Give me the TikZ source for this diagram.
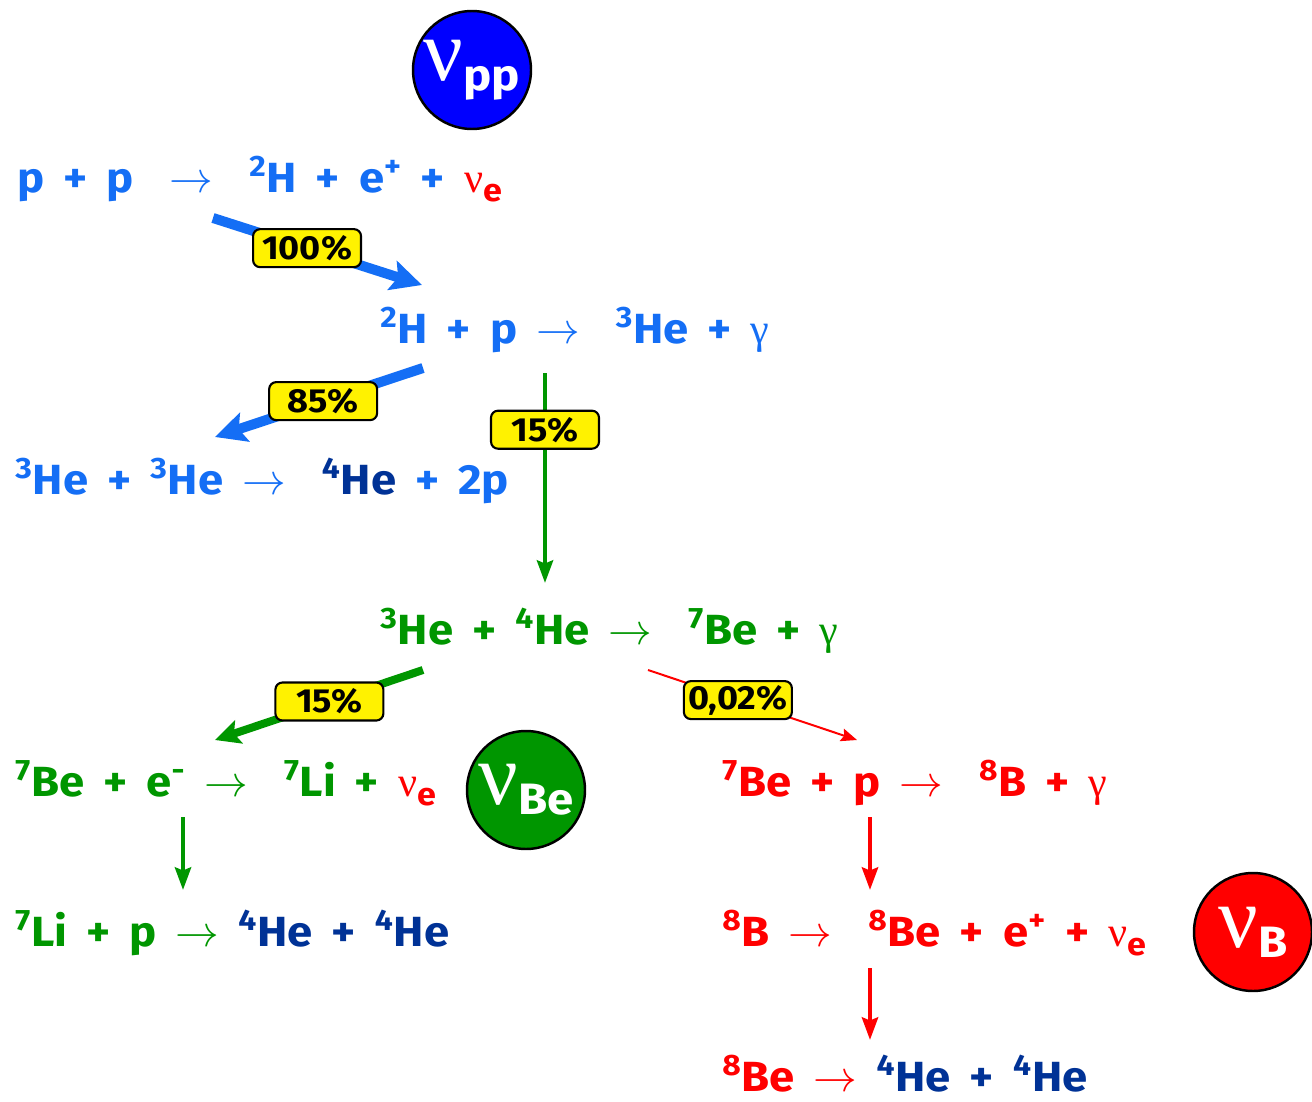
\documentclass[tikz,border=0pt]{standalone}
\usepackage{fontspec}
\setmainfont{Fira Sans}[FakeStretch=1.08]
\newfontfamily\greekfont{Liberation Serif}
\usepackage{tikz}
\usetikzlibrary{positioning,arrows.meta}
\definecolor{ppblue}{RGB}{20,110,245}
\definecolor{hedark}{RGB}{0,50,150}
\definecolor{begreen}{RGB}{0,150,0}
\definecolor{bred}{RGB}{255,0,0}
\definecolor{nublue}{RGB}{0,0,255}
\newcommand{\nue}{{\greekfont\mdseries ν}\raisebox{-0.22em}{\fontsize{18}{18}\selectfont e}}
\newcommand{\gam}{{\greekfont\mdseries γ}}
\newcommand{\ra}[1][0.4em]{$\rightarrow$\hspace{#1}}
\newcommand{\rxnfont}{\fontsize{24}{28}\selectfont\bfseries\spaceskip 0.45em\relax}
\newcommand{\nulabel}[1]{{\greekfont\fontsize{50}{50}\selectfont ν}\raisebox{-0.55em}{\fontsize{25}{28}\selectfont\bfseries #1}}

\begin{document}
\begin{tikzpicture}[x=0.02cm, y=-0.02cm,
            reaction/.style={anchor=base west, inner sep=0pt, font=\rxnfont},
            ratio/.style={draw=black, line width=1.2pt, fill=yellow, rounded corners=4pt,
                minimum width=2.16cm, minimum height=0.76cm, inner sep=1pt,
                font=\fontsize{19}{21}\selectfont\bfseries, text=black},
            nucircle/.style={circle, draw=black, line width=1.4pt, minimum size=2.36cm,
                inner sep=0pt, text=white},
            bigflow/.style={-{Stealth[length=0.62cm, width=0.6cm, inset=0.12cm]}, line width=0.2cm},
            midflow/.style={-{Stealth[length=0.5cm, width=0.48cm, inset=0.1cm]}, line width=0.16cm},
            thinflow/.style={-{Stealth[length=0.45cm, width=0.32cm, inset=0.06cm]}, line width=0.09cm},
            rareflow/.style={-{Stealth[length=0.32cm, width=0.26cm, inset=0.05cm]}, line width=0.04cm}
        ]
            \useasboundingbox (0,0) rectangle (1312,1102);

            % Neutrino labels
            \node [nucircle, fill=nublue] (nupp) at (472,70) {\nulabel{pp}};
            \node [nucircle, fill=begreen] (nube) at (526,790) {\nulabel{Be}};
            \node [nucircle, fill=bred] (nub) at (1253,932) {\nulabel{B}};

            % Reactions
            \node [reaction, text=ppblue] (pp) at (17,192)
                {p + p\hspace{0.4em} \ra{} \textsuperscript{2}H + e\textsuperscript{+} + \textcolor{bred}{\nue}};
            \node [reaction, text=ppblue] (dp) at (380,343)
                {\textsuperscript{2}H + p \ra{} \textsuperscript{3}He + \gam};
            \node [reaction, text=ppblue] (hehe) at (15,494)
                {\textsuperscript{3}He + \textsuperscript{3}He \ra{} \textcolor{hedark}{\textsuperscript{4}He} + 2p};
            \node [reaction, text=begreen] (hebe) at (380,644)
                {\textsuperscript{3}He + \textsuperscript{4}He \ra{} \textsuperscript{7}Be + \gam};
            \node [reaction, text=begreen] (bee) at (15,796)
                {\textsuperscript{7}Be + e\textsuperscript{-} \ra{} \textsuperscript{7}Li + \textcolor{bred}{\nue}};
            \node [reaction, text=begreen] (lip) at (15,946)
                {\textsuperscript{7}Li + p \ra[0pt] \textcolor{hedark}{\textsuperscript{4}He + \textsuperscript{4}He}};
            \node [reaction, text=bred] (bep) at (722,796)
                {\textsuperscript{7}Be + p \ra{} \textsuperscript{8}B + \gam};
            \node [reaction, text=bred] (bdecay) at (722,946)
                {\textsuperscript{8}B \ra{} \textsuperscript{8}Be + e\textsuperscript{+} + \nue};
            \node [reaction, text=bred] (bebreak) at (722,1091)
                {\textsuperscript{8}Be \ra[0pt] \textcolor{hedark}{\textsuperscript{4}He + \textsuperscript{4}He}};

            % Branch points
            \coordinate (pp-out) at (213,218);
            \coordinate (dp-in) at (422,285);
            \coordinate (dp-left) at (423,368);
            \coordinate (hehe-in) at (215,437);
            \coordinate (dp-down) at (545,373);
            \coordinate (hebe-in) at (545,583);
            \coordinate (hebe-left) at (423,670);
            \coordinate (bee-in) at (215,740);
            \coordinate (hebe-right) at (648,670);
            \coordinate (bep-in) at (857,740);
            \coordinate (bee-down) at (183,817);
            \coordinate (lip-in) at (183,890);
            \coordinate (bep-down) at (870,817);
            \coordinate (bdecay-in) at (870,890);
            \coordinate (bdecay-down) at (870,968);
            \coordinate (bebreak-in) at (870,1040);

            % Branches
            \draw [bigflow, ppblue] (pp-out) -- (dp-in) node [ratio, pos=0.45] {100\%};
            \draw [bigflow, ppblue] (dp-left) -- (hehe-in) node [ratio, pos=0.48] {85\%};
            \draw [thinflow, begreen] (dp-down) -- (hebe-in) node [ratio, pos=0.27] {15\%};
            \draw [midflow, begreen] (hebe-left) -- (bee-in) node [ratio, pos=0.45] {15\%};
            \draw [rareflow, bred] (hebe-right) -- (bep-in) node [ratio, pos=0.43] {0,02\%};
            \draw [thinflow, begreen] (bee-down) -- (lip-in);
            \draw [thinflow, bred] (bep-down) -- (bdecay-in);
            \draw [thinflow, bred] (bdecay-down) -- (bebreak-in);
        \end{tikzpicture}
\end{document}
